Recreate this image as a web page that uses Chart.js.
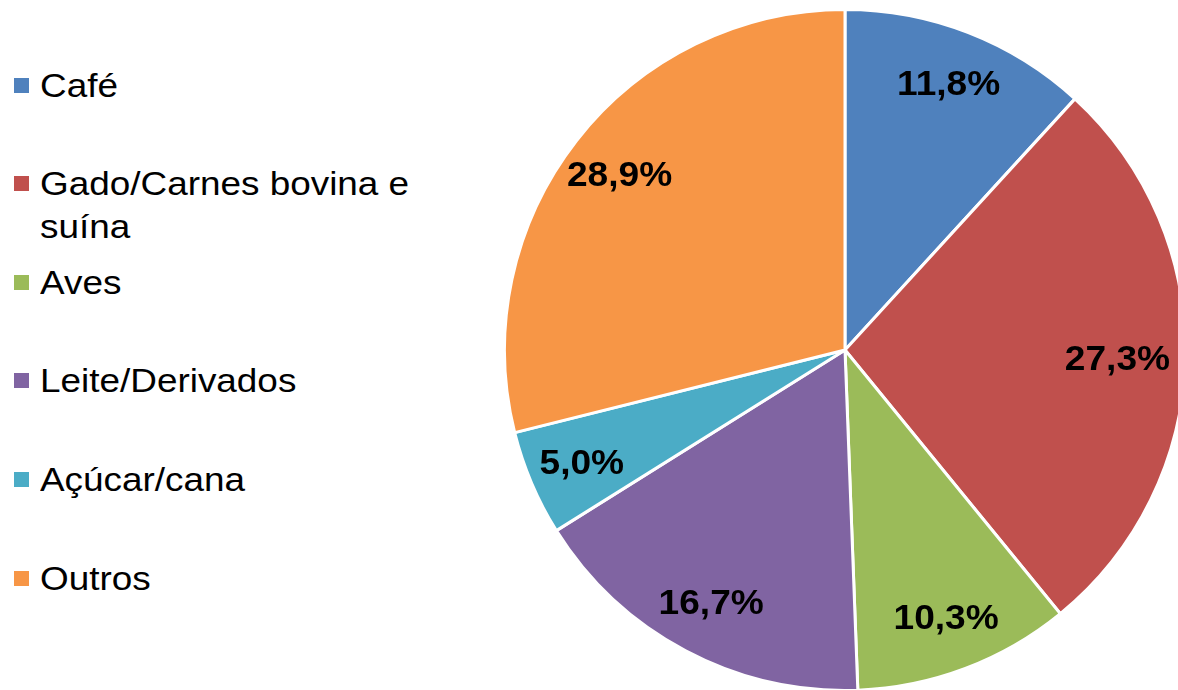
<!DOCTYPE html>
<html>
<head>
<meta charset="utf-8">
<script src="https://cdn.jsdelivr.net/npm/chart.js@4/dist/chart.umd.min.js"></script>
<style>
  html, body { margin: 0; padding: 0; background: #fff; overflow: hidden; }
  body { width: 1178px; height: 690px; position: relative; font-family: "Liberation Sans", Arial, sans-serif; }
  #pieBox { position: absolute; left: 503px; top: 8px; width: 684px; height: 684px; }
  #legend { position: absolute; left: 0; top: 0; }
  .item { position: absolute; left: 14px; width: 420px; font-size: 34px; line-height: 43px; color: #000; }
  .item .box { position: absolute; left: 0; top: 14px; width: 15px; height: 15px; }
  .item .txt { position: absolute; left: 26px; width: 360px; transform: scaleX(1.085); transform-origin: 0 0; }
</style>
</head>
<body>
<div id="legend"></div>
<div id="pieBox"><canvas id="pieChart"></canvas></div>
<script>
// data
const categories = ['Café', 'Gado/Carnes bovina e suína', 'Aves', 'Leite/Derivados', 'Açúcar/cana', 'Outros'];
const shares = [11.8, 27.3, 10.3, 16.7, 5.0, 28.9];
const sliceColors = ['#4F81BD', '#C0504D', '#9BBB59', '#8064A2', '#4BACC6', '#F79646'];

// legend on the left, one entry every ~98.6px
function buildLegend() {
    const legend = document.getElementById('legend');
    categories.forEach((name, i) => {
        const item = document.createElement('div');
        item.className = 'item';
        item.style.top = (85 - 21.5 + i * 98.6) + 'px';
        item.innerHTML = '<span class="box" style="background:' + sliceColors[i] + '"></span>' +
            '<span class="txt">' + name + '</span>';
        legend.appendChild(item);
    });
}
buildLegend();

function formatShare(v) {
    return v.toFixed(1).replace('.', ',') + '%';
}

// percentage labels drawn inside each slice
const sliceLabels = {
    id: 'sliceLabels',
    afterDatasetsDraw(chart) {
        const ctx = chart.ctx;
        const meta = chart.getDatasetMeta(0);
        const stretch = 1.06;
        ctx.save();
        ctx.font = 'bold 35px "Liberation Sans", Arial, sans-serif';
        ctx.fillStyle = '#000';
        ctx.textAlign = 'center';
        ctx.textBaseline = 'middle';
        meta.data.forEach((arc, i) => {
            const mid = (arc.startAngle + arc.endAngle) / 2;
            const r = arc.outerRadius * 0.84;
            const text = formatShare(shares[i]);
            const half = ctx.measureText(text).width * stretch / 2;
            let x = arc.x + Math.cos(mid) * r;
            const y = arc.y + Math.sin(mid) * r + 2;
            // keep the label inside the visible window
            x = Math.min(x, 1170 - 503 - half);
            ctx.save();
            ctx.translate(x, y);
            ctx.scale(stretch, 1);
            ctx.fillText(text, 0, 0);
            ctx.restore();
        });
        ctx.restore();
    }
};

const ctx = document.getElementById('pieChart').getContext('2d');
new Chart(ctx, {
    type: 'pie',
    data: {
        labels: categories,
        datasets: [{
            data: shares,
            backgroundColor: sliceColors,
            borderColor: '#fff',
            borderWidth: 3
        }]
    },
    options: {
        responsive: true,
        maintainAspectRatio: false,
        animation: false,
        layout: { padding: 0 },
        plugins: {
            legend: { display: false },
            tooltip: { enabled: false }
        }
    },
    plugins: [sliceLabels]
});
</script>
</body>
</html>
